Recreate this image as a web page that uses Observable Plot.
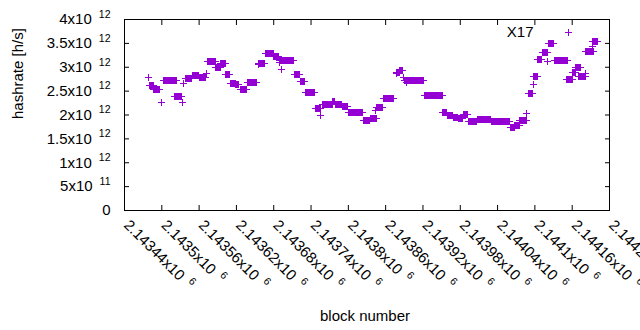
<!DOCTYPE html>
<html>
<head>
<meta charset="utf-8">
<script src="https://cdn.jsdelivr.net/npm/d3@7"></script>
<script src="https://cdn.jsdelivr.net/npm/@observablehq/plot@0.6"></script>
<style>
  html, body { margin: 0; padding: 0; background: #fff; }
</style>
</head>
<body>
<div id="chart"></div>
<script>
// Tick positions and labels
const xTicks = [2143440, 2143500, 2143560, 2143620, 2143680, 2143740, 2143800, 2143860, 2143920, 2143980, 2144040, 2144100, 2144160, 2144220];
const xTickLabels = ["2.14344x10^6", "2.1435x10^6", "2.14356x10^6", "2.14362x10^6", "2.14368x10^6", "2.14374x10^6", "2.1438x10^6", "2.14386x10^6", "2.14392x10^6", "2.14398x10^6", "2.14404x10^6", "2.1441x10^6", "2.14416x10^6", "2.14422x10^6"];
const yTicks = [0, 5e11, 1e12, 1.5e12, 2e12, 2.5e12, 3e12, 3.5e12, 4e12];
const yTickLabels = ["0", "5x10^11", "1x10^12", "1.5x10^12", "2x10^12", "2.5x10^12", "3x10^12", "3.5x10^12", "4x10^12"];

// Series X17: runs of consecutive blocks sharing one hashrate value
const runStart = [2143479, 2143480, 2143487, 2143500, 2143503, 2143521, 2143534, 2143535, 2143538, 2143549,
  2143560, 2143572, 2143573, 2143587, 2143595, 2143603, 2143610, 2143619, 2143627, 2143638,
  2143655, 2143656, 2143666, 2143668, 2143680, 2143689, 2143692, 2143690, 2143713, 2143723,
  2143731, 2143747, 2143756, 2143759, 2143775, 2143779, 2143790, 2143800, 2143824, 2143835,
  2143843, 2143846, 2143856, 2143877, 2143878, 2143883, 2143888, 2143891, 2143893, 2143922,
  2143952, 2143959, 2143969, 2143977, 2143985, 2143993, 2144007, 2144030, 2144060, 2144068,
  2144076, 2144087, 2144090, 2144097, 2144098, 2144105, 2144112, 2144121, 2144122, 2144131,
  2144151, 2144161, 2144166, 2144170, 2144182, 2144182, 2144192, 2144193];
const runEnd = [2143479, 2143486, 2143497, 2143500, 2143524, 2143532, 2143534, 2143535, 2143548, 2143559,
  2143571, 2143572, 2143586, 2143594, 2143602, 2143609, 2143618, 2143624, 2143637, 2143653,
  2143655, 2143665, 2143666, 2143679, 2143688, 2143689, 2143692, 2143712, 2143722, 2143730,
  2143746, 2143755, 2143756, 2143774, 2143778, 2143789, 2143799, 2143823, 2143834, 2143845,
  2143843, 2143855, 2143872, 2143877, 2143882, 2143887, 2143888, 2143921, 2143893, 2143951,
  2143958, 2143968, 2143976, 2143984, 2143992, 2144006, 2144029, 2144059, 2144067, 2144075,
  2144086, 2144087, 2144096, 2144097, 2144104, 2144111, 2144120, 2144121, 2144130, 2144153,
  2144160, 2144165, 2144173, 2144181, 2144182, 2144194, 2144192, 2144201];
const runValue = [2.79e12, 2.61e12, 2.54e12, 2.26e12, 2.73e12, 2.38e12, 2.26e12, 2.66e12, 2.77e12, 2.83e12,
  2.79e12, 2.87e12, 3.12e12, 3.00e12, 3.08e12, 2.85e12, 2.67e12, 2.63e12, 2.53e12, 2.68e12,
  3.05e12, 3.08e12, 3.28e12, 3.29e12, 3.23e12, 3.10e12, 2.96e12, 3.15e12, 2.85e12, 2.71e12,
  2.48e12, 2.14e12, 2.00e12, 2.22e12, 2.29e12, 2.21e12, 2.18e12, 2.05e12, 1.89e12, 1.93e12,
  2.09e12, 2.16e12, 2.35e12, 2.86e12, 2.90e12, 2.94e12, 2.79e12, 2.72e12, 2.69e12, 2.41e12,
  2.05e12, 1.98e12, 1.95e12, 1.93e12, 2.01e12, 1.87e12, 1.91e12, 1.87e12, 1.73e12, 1.79e12,
  1.89e12, 2.04e12, 2.45e12, 2.63e12, 2.81e12, 3.16e12, 3.30e12, 3.13e12, 3.49e12, 3.15e12,
  2.74e12, 2.88e12, 3.00e12, 2.80e12, 2.87e12, 3.33e12, 3.44e12, 3.54e12];

const seriesName = "X17";
const color = "#9400d3";

// One point per block within each run
const points = [];
runStart.forEach((s, i) => {
  for (let b = s; b <= runEnd[i]; b++) points.push({block: b, hashrate: runValue[i]});
});

// gnuplot-style thin "+" symbol
const thinPlus = {
  draw(ctx, size) {
    const r = Math.sqrt(size / Math.PI);
    ctx.moveTo(-r, 0); ctx.lineTo(r, 0);
    ctx.moveTo(0, -r); ctx.lineTo(0, r);
  }
};

const chart = Plot.plot({
  width: 640,
  height: 330,
  marginLeft: 124,
  marginRight: 31,
  marginTop: 19,
  marginBottom: 120,
  style: {fontFamily: "'Liberation Sans', Arial, sans-serif", fontSize: "15px", background: "#fff", color: "#000", overflow: "visible"},
  x: {domain: [2143440, 2144220], axis: null},
  y: {domain: [0, 4e12], axis: null},
  marks: [
    Plot.axisX(xTicks, {anchor: "bottom", tickSize: -5, tickFormat: () => "", label: null, stroke: "#000"}),
    Plot.axisX(xTicks, {anchor: "top", tickSize: -5, tickFormat: () => "", label: null, stroke: "#000"}),
    Plot.axisY(yTicks, {anchor: "left", tickSize: -5, tickFormat: () => "", label: null, stroke: "#000"}),
    Plot.axisY(yTicks, {anchor: "right", tickSize: -5, tickFormat: () => "", label: null, stroke: "#000"}),
    Plot.frame({stroke: "#000"}),
    Plot.text(yTicks, {y: d => d, frameAnchor: "left", text: (d, i) => yTickLabels[i], textAnchor: "end", lineAnchor: "middle", dx: -14, fill: "#000"}),
    Plot.text(xTicks, {x: d => d, frameAnchor: "bottom", text: (d, i) => xTickLabels[i], rotate: 45, textAnchor: "start", lineAnchor: "middle", dx: 2, dy: 12, fill: "#000"}),
    Plot.text(["hashrate [h/s]"], {frameAnchor: "left", rotate: -90, dx: -106, dy: 4, lineAnchor: "middle", fill: "#000"}),
    Plot.text(["block number"], {frameAnchor: "bottom", dx: -2, dy: 106, lineAnchor: "middle", fill: "#000"}),
    Plot.dot(points, {x: "block", y: "hashrate", symbol: thinPlus, r: 3.5, stroke: color, fill: "none", strokeWidth: 1, shapeRendering: "crispEdges"}),
    Plot.text([seriesName], {frameAnchor: "top-right", dx: -76, dy: 13, textAnchor: "end", lineAnchor: "middle", fill: "#000"}),
    Plot.dot([seriesName], {frameAnchor: "top-right", dx: -41, dy: 13, symbol: thinPlus, r: 3.5, stroke: color, fill: "none", strokeWidth: 1, shapeRendering: "crispEdges"})
  ]
});

// Render "^" exponents as raised superscripts
for (const t of chart.querySelectorAll("text")) {
  const s = t.textContent;
  const i = s.indexOf("^");
  if (i < 0) continue;
  t.textContent = s.slice(0, i);
  const ts = document.createElementNS("http://www.w3.org/2000/svg", "tspan");
  ts.setAttribute("dx", "7");
  ts.setAttribute("dy", "-6.5");
  ts.setAttribute("font-size", "10.5");
  ts.textContent = s.slice(i + 1);
  t.appendChild(ts);
}

document.getElementById("chart").appendChild(chart);
</script>
</body>
</html>
